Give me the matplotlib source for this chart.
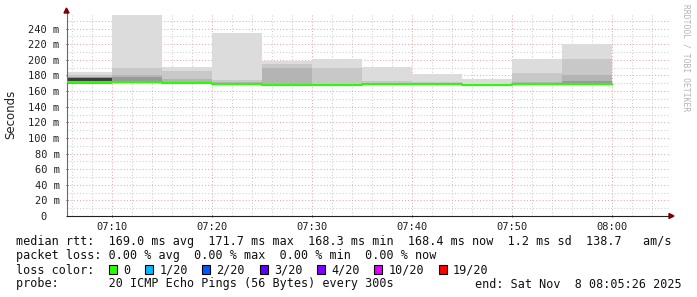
import numpy as np
import matplotlib
matplotlib.use("Agg")
import matplotlib.pyplot as plt
from matplotlib.patches import Polygon, Rectangle

# ---------------- data ----------------
# interval start times (minutes after 07:00), each interval 5 minutes long
interval_start = [5, 10, 15, 20, 25, 30, 35, 40, 45, 50, 55]
interval_len = 5
# smoke levels (ms) per interval: outer max, inner upper quantiles, median, lower bound
rtt_max   = [184.5, 257.7, 191.4, 235.0, 198.7, 201.0, 190.5, 181.7, 175.3, 201.0, 220.0]
rtt_hi3   = [180.5, 190.0, 186.0, 174.0, 194.5, 190.0, 172.7, 171.8, 169.5, 183.0, 201.0]
rtt_hi5   = [178.0, 180.8, 176.0, 172.0, 190.0, 169.0, 170.5, 170.0, 169.0, 171.5, 180.5]
rtt_hi8   = [177.8, 177.8, 172.0, 170.5, 169.0, 168.8, 169.8, 169.5, 168.8, 170.3, 173.5]
rtt_hi10  = [177.3, 171.5, 170.2, 169.8, 168.6, 168.6, 169.4, 169.2, 168.5, 169.8, 170.0]
rtt_median = [171.7, 171.3, 169.8, 169.5, 168.3, 168.4, 169.2, 169.0, 168.3, 169.5, 169.6]
rtt_min   = [169.0, 170.0, 168.8, 168.5, 167.3, 167.4, 168.2, 168.0, 167.3, 168.5, 168.6]

x_ticks = [10, 20, 30, 40, 50, 60]
x_tick_labels = ["07:10", "07:20", "07:30", "07:40", "07:50", "08:00"]
y_ticks = [0, 20, 40, 60, 80, 100, 120, 140, 160, 180, 200, 220, 240]
y_tick_labels = ["0  "] + [f"{v} m" for v in y_ticks[1:]]

legend_line1 = "median rtt:  169.0 ms avg  171.7 ms max  168.3 ms min  168.4 ms now  1.2 ms sd  138.7   am/s"
legend_line2 = "packet loss: 0.00 % avg  0.00 % max  0.00 % min  0.00 % now"
legend_line3_label = "loss color:"
loss_labels = ["0", "1/20", "2/20", "3/20", "4/20", "10/20", "19/20"]
loss_colors = ["#26ff00", "#00b8ff", "#0059ff", "#5e00ff", "#7e00ff", "#dd00ff", "#ff0000"]
probe_text = "probe:       20 ICMP Echo Pings (56 Bytes) every 300s"
end_text = "end: Sat Nov  8 08:05:26 2025"
watermark = "RRDTOOL / TOBI OETIKER"

# ---------------- figure ----------------
W, H = 697, 297
fig = plt.figure(figsize=(W / 100, H / 100), dpi=100)
fig.patch.set_facecolor("white")

def fx(x):
    return x / W

def fy(y):
    return 1 - y / H

ax_left, ax_right, ax_top, ax_bottom = 66.5, 669.0, 13.0, 216.0
ax = fig.add_axes([fx(ax_left), fy(ax_bottom), (ax_right - ax_left) / W, (ax_bottom - ax_top) / H])
ax.set_facecolor("white")
ax.set_xlim(5.45, 65.7)
ax.set_ylim(0, 260)

mono = "DejaVu Sans Mono"

# grid
minor_c = "#cfcfcf"
major_c = "#e8aaaa"
dot = (0, (1, 2))
for xv in np.arange(6, 66, 2):
    if xv % 10 != 0:
        ax.axvline(xv, color=minor_c, lw=0.75, ls=dot, zorder=0)
for yv in np.arange(10, 260, 20):
    ax.axhline(yv, color=minor_c, lw=0.75, ls=dot, zorder=0)
for xv in x_ticks:
    ax.axvline(xv, color=major_c, lw=0.75, ls=dot, zorder=0)
for yv in y_ticks[1:]:
    ax.axhline(yv, color=major_c, lw=0.75, ls=dot, zorder=0)
ax.axhline(250, color=minor_c, lw=0.75, ls=dot, zorder=0)

# smoke
xs = np.append(np.array(interval_start, float), interval_start[-1] + interval_len)

def ext(a):
    a = np.asarray(a, float)
    return np.append(a, a[-1])

levels = [
    (rtt_min, rtt_max, "#dcdcdc"),
    (rtt_min, rtt_hi3, "#c8c8c8"),
    (rtt_min, rtt_hi5, "#b4b4b4"),
    (rtt_min, rtt_hi8, "#9a9a9a"),
    (rtt_median, rtt_hi10, "#3c3c3c"),
]
for lo, hi, c in levels:
    ax.fill_between(xs, ext(lo), ext(hi), step="post", color=c, lw=0, zorder=2)

ax.step(xs, ext(rtt_median), where="post", color="#26ff00", lw=1.5, zorder=3)

# axes styling
for s in ["top", "right"]:
    ax.spines[s].set_visible(False)
ax.spines["left"].set_color("#6a6a6a")
ax.spines["left"].set_linewidth(0.8)
ax.spines["bottom"].set_color("#202020")
ax.spines["bottom"].set_linewidth(0.8)

ax.set_xticks(x_ticks)
ax.set_xticklabels(x_tick_labels, fontfamily=mono, fontsize=7.5, color="#202020")
ax.set_yticks(y_ticks)
ax.set_yticklabels(y_tick_labels, fontfamily=mono, fontsize=7.5, color="#202020")
ax.tick_params(axis="x", length=2, width=0.7, color="#404040", pad=3, direction="inout")
ax.tick_params(axis="y", length=2, width=0.7, color="#404040", pad=4, direction="inout")

# arrows
arrow_c = "#7f0000"
fig.patches.append(Polygon([[fx(ax_left - 2.5), fy(13)], [fx(ax_left + 2.5), fy(13)], [fx(ax_left), fy(8)]],
                           closed=True, color=arrow_c, transform=fig.transFigure, figure=fig))
fig.patches.append(Polygon([[fx(669), fy(ax_bottom - 2.5)], [fx(669), fy(ax_bottom + 2.5)], [fx(674), fy(ax_bottom)]],
                           closed=True, color=arrow_c, transform=fig.transFigure, figure=fig))

# y label and watermark
fig.text(fx(11), fy(114), "Seconds", rotation=90, ha="center", va="center",
         fontfamily="DejaVu Sans", fontsize=8.5, color="#202020")
fig.text(fx(686), fy(4), watermark, rotation=-90, ha="center", va="top",
         fontfamily=mono, fontsize=5.8, color="#b4b4b4")

# legend
lfs = 8.5
tc = "#101010"
fig.text(fx(16), fy(245.5), legend_line1, ha="left", va="baseline", fontfamily=mono, fontsize=lfs, color=tc)
fig.text(fx(16), fy(259.5), legend_line2, ha="left", va="baseline", fontfamily=mono, fontsize=lfs, color=tc)
fig.text(fx(16), fy(273.5), legend_line3_label, ha="left", va="baseline", fontfamily=mono, fontsize=lfs, color=tc)
char_w = 7.1
text_x = 123.3
for lab, col in zip(loss_labels, loss_colors):
    bx = text_x - 14.3
    fig.patches.append(Rectangle((fx(bx), fy(273.5)), 8 / W, 9 / H, facecolor=col, edgecolor="black",
                                 lw=0.8, transform=fig.transFigure, figure=fig))
    fig.text(fx(text_x), fy(273.5), lab, ha="left", va="baseline", fontfamily=mono, fontsize=lfs, color=tc)
    text_x += len(lab) * char_w + 2 * char_w + 14.7
fig.text(fx(16), fy(287.5), probe_text, ha="left", va="baseline", fontfamily=mono, fontsize=lfs, color=tc)
fig.text(fx(682), fy(287.5), end_text, ha="right", va="baseline", fontfamily=mono, fontsize=lfs, color=tc)

fig.savefig("out.png", dpi=100, facecolor="white")
